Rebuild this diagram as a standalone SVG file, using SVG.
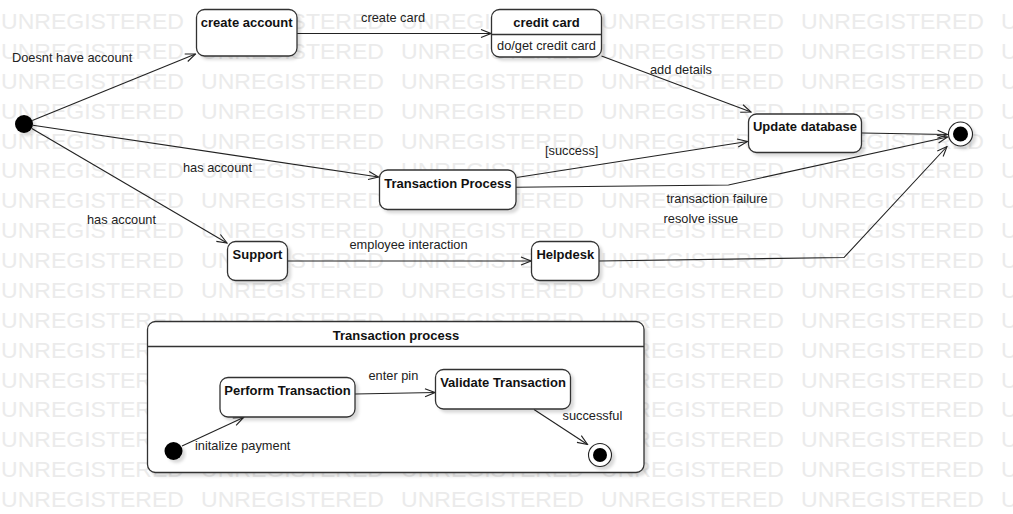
<svg xmlns="http://www.w3.org/2000/svg" xmlns:xlink="http://www.w3.org/1999/xlink" width="1013" height="514" viewBox="0 0 1013 514">
<defs>
<style>
.wm{font-family:"Liberation Sans",Arial,sans-serif;font-size:22.5px;fill:#ebebeb}
.box{fill:#fff;stroke:#333;stroke-width:1.3;filter:url(#sh)}
.t{font-family:"Liberation Sans",Arial,sans-serif;font-size:13px;font-weight:bold;fill:#111;text-anchor:middle}
.r{font-family:"Liberation Sans",Arial,sans-serif;font-size:12.8px;fill:#222}
.rc{font-family:"Liberation Sans",Arial,sans-serif;font-size:12.8px;fill:#222;text-anchor:middle}
.c{fill:none;stroke:#222;stroke-width:1.1;marker-end:url(#arr)}
</style>
<filter id="sh" x="-10%" y="-10%" width="130%" height="140%">
<feDropShadow dx="3" dy="3" stdDeviation="1.5" flood-color="#000" flood-opacity="0.15"/>
</filter>
<marker id="arr" viewBox="0 0 12 10" refX="11" refY="5" markerWidth="12" markerHeight="10" markerUnits="userSpaceOnUse" orient="auto">
<path d="M1,1 L11,5 L1,9" fill="none" stroke="#222" stroke-width="1.1"/>
</marker>
<g id="wmrow">
<text class="wm" x="1" y="0" textLength="183" lengthAdjust="spacingAndGlyphs">UNREGISTERED</text>
<text class="wm" x="201" y="0" textLength="183" lengthAdjust="spacingAndGlyphs">UNREGISTERED</text>
<text class="wm" x="401" y="0" textLength="183" lengthAdjust="spacingAndGlyphs">UNREGISTERED</text>
<text class="wm" x="601" y="0" textLength="183" lengthAdjust="spacingAndGlyphs">UNREGISTERED</text>
<text class="wm" x="801" y="0" textLength="183" lengthAdjust="spacingAndGlyphs">UNREGISTERED</text>
<text class="wm" x="1001" y="0" textLength="183" lengthAdjust="spacingAndGlyphs">UNREGISTERED</text>
</g>
</defs>
<rect width="1013" height="514" fill="#fff"/>
<g id="watermark">
<use xlink:href="#wmrow" y="29"/>
<use xlink:href="#wmrow" y="58.9"/>
<use xlink:href="#wmrow" y="88.75"/>
<use xlink:href="#wmrow" y="118.6"/>
<use xlink:href="#wmrow" y="148.5"/>
<use xlink:href="#wmrow" y="178.4"/>
<use xlink:href="#wmrow" y="208.25"/>
<use xlink:href="#wmrow" y="238.1"/>
<use xlink:href="#wmrow" y="268"/>
<use xlink:href="#wmrow" y="297.9"/>
<use xlink:href="#wmrow" y="327.75"/>
<use xlink:href="#wmrow" y="357.6"/>
<use xlink:href="#wmrow" y="387.5"/>
<use xlink:href="#wmrow" y="417.4"/>
<use xlink:href="#wmrow" y="447.25"/>
<use xlink:href="#wmrow" y="477.1"/>
<use xlink:href="#wmrow" y="507"/>
</g>

<g id="composite">
<rect class="box" x="147.5" y="321.5" width="496.5" height="151" rx="8"/>
<line x1="147.5" y1="346.5" x2="644" y2="346.5" stroke="#333" stroke-width="1.3"/>
<text class="t" x="396" y="339.5">Transaction process</text>
</g>

<g id="connectors">
<line class="c" x1="32.3" y1="120.6" x2="195.5" y2="54"/>
<text class="r" x="12" y="62">Doesnt have account</text>
<line class="c" x1="297" y1="33.5" x2="491" y2="33.5"/>
<text class="r" x="361" y="21.5">create card</text>
<line class="c" x1="601.5" y1="56" x2="751" y2="112"/>
<text class="r" x="650" y="74">add details</text>
<line class="c" x1="862" y1="133" x2="947.5" y2="134.5"/>
<line class="c" x1="32.9" y1="125.3" x2="378.5" y2="177"/>
<text class="r" x="183" y="172">has account</text>
<line class="c" x1="31.8" y1="128.5" x2="227" y2="243"/>
<text class="r" x="87" y="224">has account</text>
<line class="c" x1="516.5" y1="177.5" x2="747.5" y2="141.5"/>
<text class="r" x="545" y="155">[success]</text>
<polyline class="c" points="516,187.3 728.5,185 947.5,137"/>
<text class="r" x="666.5" y="203">transaction failure</text>
<line class="c" x1="287.5" y1="261" x2="531" y2="261"/>
<text class="r" x="349.5" y="249">employee interaction</text>
<polyline class="c" points="599,261 844,257.5 947,146.5"/>
<text class="r" x="663.5" y="222.5">resolve issue</text>
<line class="c" x1="182" y1="446" x2="243.5" y2="417.5"/>
<text class="r" x="195" y="450">initalize payment</text>
<line class="c" x1="355" y1="394" x2="435" y2="392.5"/>
<text class="r" x="368.5" y="380">enter pin</text>
<line class="c" x1="534" y1="409.5" x2="587.5" y2="444.5"/>
<text class="r" x="562.5" y="419.5">successful</text>
</g>

<g id="initial">
<circle cx="24" cy="124" r="9" fill="#000" filter="url(#sh)"/>
</g>
<g id="create-account">
<rect class="box" x="196.5" y="9.5" width="100.5" height="46.5" rx="8"/>
<text class="t" x="246.7" y="27">create account</text>
</g>
<g id="credit-card">
<rect class="box" x="491.5" y="9.5" width="110" height="47.5" rx="8"/>
<line x1="491.5" y1="34.5" x2="601.5" y2="34.5" stroke="#333" stroke-width="1.3"/>
<text class="t" x="546.5" y="27">credit card</text>
<text class="rc" x="546.5" y="50">do/get credit card</text>
</g>
<g id="update-database">
<rect class="box" x="748.5" y="114" width="113" height="38.5" rx="8"/>
<text class="t" x="805" y="131">Update database</text>
</g>
<g id="final">
<circle cx="960.5" cy="134" r="12" fill="#fff" stroke="#222" stroke-width="1.1" filter="url(#sh)"/>
<circle cx="960.5" cy="134" r="7.5" fill="#000"/>
</g>
<g id="transaction-process">
<rect class="box" x="379.5" y="170" width="136.5" height="39.5" rx="8"/>
<text class="t" x="447.8" y="187.5">Transaction Process</text>
</g>
<g id="support">
<rect class="box" x="227.5" y="241.5" width="60" height="39" rx="8"/>
<text class="t" x="257.5" y="259">Support</text>
</g>
<g id="helpdesk">
<rect class="box" x="531.5" y="241.5" width="67.5" height="39" rx="8"/>
<text class="t" x="565.3" y="258.5">Helpdesk</text>
</g>
<g id="perform-transaction">
<rect class="box" x="220" y="377.5" width="135" height="39.5" rx="8"/>
<text class="t" x="287.5" y="395">Perform Transaction</text>
</g>
<g id="validate-transaction">
<rect class="box" x="435.5" y="369.5" width="135" height="39.5" rx="8"/>
<text class="t" x="503" y="387">Validate Transaction</text>
</g>
<g id="inner-initial">
<circle cx="173.5" cy="451" r="9" fill="#000" filter="url(#sh)"/>
</g>
<g id="inner-final">
<circle cx="600" cy="455" r="11.5" fill="#fff" stroke="#222" stroke-width="1.1" filter="url(#sh)"/>
<circle cx="600" cy="455" r="7" fill="#000"/>
</g>
</svg>
